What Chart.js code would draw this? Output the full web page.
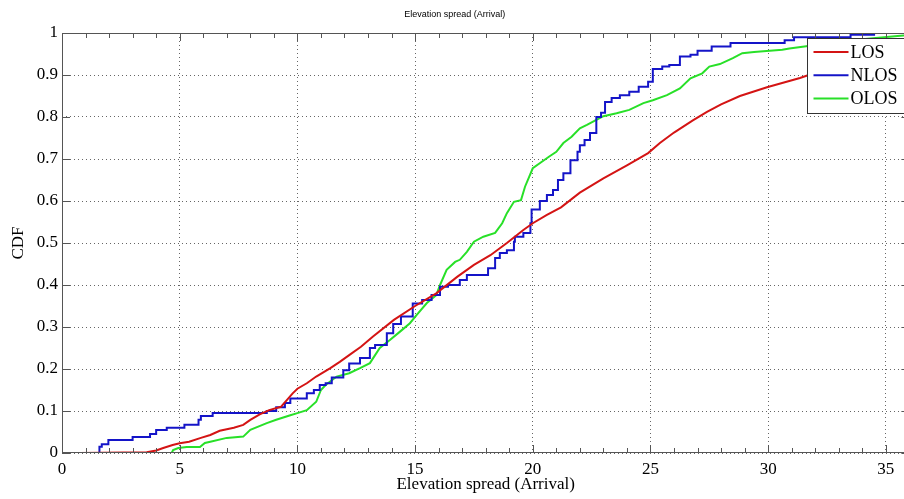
<!DOCTYPE html>
<html>
<head>
<meta charset="utf-8">
<script src="https://cdn.jsdelivr.net/npm/chart.js@4.4.0/dist/chart.umd.min.js"></script>
<style>
  html, body { margin: 0; padding: 0; background: #fff; overflow: hidden; }
  canvas { display: block; }
</style>
</head>
<body>
<canvas id="cdf" width="910" height="499"></canvas>
<script>
// tick labels
const xTicks = [0, 5, 10, 15, 20, 25, 30, 35];
const yTicks = [0, 0.1, 0.2, 0.3, 0.4, 0.5, 0.6, 0.7, 0.8, 0.9, 1];

// LOS
const losX = [0.75, 3.6, 4.0, 4.3, 4.7, 5.0, 5.4, 5.9, 6.3, 6.7, 7.3, 7.7, 8.0, 8.4, 8.8, 9.3, 9.55, 9.8, 10.0, 10.4, 10.8, 11.4, 11.8, 12.2, 12.7, 13.2, 14.1, 15.0, 15.9, 16.8, 17.5, 18.2, 18.9, 19.6, 20.0, 20.6, 21.2, 22.0, 23.0, 24.0, 24.9, 25.4, 26.0, 26.8, 27.4, 28.0, 28.8, 29.95, 31.35, 32.5, 34.0, 36.0];
const losY = [0, 0.002, 0.006, 0.012, 0.019, 0.023, 0.027, 0.036, 0.043, 0.053, 0.06, 0.067, 0.079, 0.092, 0.102, 0.11, 0.126, 0.142, 0.153, 0.166, 0.182, 0.202, 0.217, 0.233, 0.253, 0.277, 0.317, 0.35, 0.38, 0.42, 0.448, 0.471, 0.5, 0.531, 0.547, 0.567, 0.585, 0.62, 0.654, 0.685, 0.714, 0.738, 0.763, 0.792, 0.812, 0.83, 0.85, 0.871, 0.893, 0.915, 0.94, 0.965];

// NLOS (stairs)
const nlosX = [1.59, 1.69, 1.97, 3.0, 3.74, 4.0, 4.45, 5.2, 5.8, 5.9, 6.4, 8.7, 9.1, 9.47, 9.7, 10.4, 10.7, 10.95, 11.2, 11.46, 11.95, 12.2, 12.66, 13.08, 13.3, 13.8, 14.07, 14.4, 14.9, 15.3, 15.7, 16.06, 16.4, 16.9, 17.2, 18.1, 18.4, 18.6, 18.9, 19.2, 19.24, 19.6, 19.9, 19.95, 20.3, 20.6, 20.86, 21.07, 21.3, 21.6, 21.9, 22.0, 22.2, 22.43, 22.7, 22.9, 23.07, 23.35, 23.7, 24.1, 24.5, 24.9, 25.1, 25.5, 25.8, 26.25, 26.7, 27.0, 27.6, 28.4, 30.7, 31.1, 33.5, 34.5, 35.0, 36.0];
const nlosY = [0, 0.015, 0.021, 0.031, 0.038, 0.045, 0.055, 0.06, 0.067, 0.079, 0.088, 0.095, 0.1, 0.109, 0.119, 0.13, 0.142, 0.15, 0.162, 0.166, 0.18, 0.197, 0.213, 0.226, 0.25, 0.257, 0.285, 0.307, 0.325, 0.356, 0.364, 0.376, 0.396, 0.4, 0.412, 0.424, 0.44, 0.464, 0.476, 0.483, 0.503, 0.515, 0.524, 0.547, 0.58, 0.6, 0.614, 0.626, 0.65, 0.666, 0.697, 0.717, 0.733, 0.745, 0.762, 0.8, 0.81, 0.836, 0.845, 0.852, 0.86, 0.872, 0.884, 0.914, 0.92, 0.924, 0.944, 0.948, 0.958, 0.968, 0.976, 0.983, 0.99, 0.996, 1.0, 1.0];

// OLOS
const olosX = [4.66, 4.72, 4.94, 5.3, 5.86, 6.07, 6.3, 7.0, 7.7, 8.0, 8.7, 9.1, 9.7, 10.0, 10.4, 10.8, 11.0, 11.2, 11.67, 12.2, 12.66, 13.08, 13.5, 13.93, 14.36, 14.78, 15.07, 15.5, 15.9, 16.06, 16.34, 16.7, 16.9, 17.2, 17.5, 17.9, 18.4, 18.7, 18.9, 19.2, 19.5, 19.67, 20.0, 20.4, 20.7, 21.0, 21.3, 21.65, 22.0, 22.3, 22.7, 23.0, 23.56, 24.1, 24.7, 25.1, 25.7, 26.25, 26.7, 27.2, 27.5, 27.95, 28.5, 28.9, 29.4, 30.6, 30.9, 32.5, 34.0, 35.5, 36.0];
const olosY = [0, 0.007, 0.012, 0.014, 0.014, 0.024, 0.027, 0.036, 0.039, 0.055, 0.071, 0.079, 0.09, 0.095, 0.102, 0.122, 0.15, 0.162, 0.182, 0.19, 0.202, 0.214, 0.25, 0.269, 0.289, 0.309, 0.329, 0.357, 0.376, 0.4, 0.436, 0.455, 0.46, 0.479, 0.503, 0.515, 0.524, 0.547, 0.571, 0.598, 0.602, 0.634, 0.678, 0.694, 0.706, 0.717, 0.738, 0.753, 0.773, 0.781, 0.793, 0.802, 0.809, 0.817, 0.833, 0.84, 0.852, 0.868, 0.892, 0.904, 0.92, 0.926, 0.94, 0.952, 0.955, 0.96, 0.963, 0.975, 0.985, 0.993, 0.995];

const toPts = (xs, ys) => xs.map((x, i) => ({ x: x, y: ys[i] }));
const serif = "'Liberation Serif', serif";

// box, inward ticks and the legend (drawn on top of the lines)
const matlabFrame = {
  id: 'matlabFrame',
  afterDatasetsDraw(chart) {
    const ctx = chart.ctx;
    const ca = chart.chartArea;
    const xs = chart.scales.x;
    const ys = chart.scales.y;
    ctx.save();
    ctx.strokeStyle = '#555';
    ctx.lineWidth = 1;
    ctx.beginPath();
    ctx.moveTo(ca.left + 0.5, ca.top + 0.5);
    ctx.lineTo(ca.right, ca.top + 0.5);
    ctx.moveTo(ca.left + 0.5, ca.top);
    ctx.lineTo(ca.left + 0.5, ca.bottom);
    ctx.moveTo(ca.left, ca.bottom - 0.5);
    ctx.lineTo(ca.right, ca.bottom - 0.5);
    ctx.moveTo(ca.right - 0.5, ca.top);
    ctx.lineTo(ca.right - 0.5, ca.bottom);
    // x ticks, minor every 1
    for (let v = Math.ceil(xs.min); v <= xs.max; v++) {
      const px = Math.round(xs.getPixelForValue(v)) + 0.5;
      const len = v % 5 === 0 ? 8 : 5;
      ctx.moveTo(px, ca.bottom);
      ctx.lineTo(px, ca.bottom - len);
      ctx.moveTo(px, ca.top);
      ctx.lineTo(px, ca.top + len);
    }
    yTicks.forEach(v => {
      const py = Math.round(ys.getPixelForValue(v)) + 0.5;
      ctx.moveTo(ca.left, py);
      ctx.lineTo(ca.left + 8, py);
      ctx.moveTo(ca.right, py);
      ctx.lineTo(ca.right - 8, py);
    });
    ctx.stroke();

    // legend
    const bx = 807.5, by = 38.5, bw = 110, bh = 75;
    ctx.fillStyle = '#fff';
    ctx.fillRect(bx, by, bw, bh);
    ctx.strokeStyle = '#333';
    ctx.strokeRect(bx, by, bw, bh);
    ctx.font = '18px ' + serif;
    ctx.textBaseline = 'middle';
    ctx.textAlign = 'left';
    chart.data.datasets.forEach((ds, i) => {
      const ly = by + 13.5 + i * 23.3;
      ctx.strokeStyle = ds.borderColor;
      ctx.lineWidth = 2;
      ctx.beginPath();
      ctx.moveTo(bx + 6, ly);
      ctx.lineTo(bx + 41, ly);
      ctx.stroke();
      ctx.fillStyle = '#000';
      ctx.fillText(ds.label, bx + 43, ly + 1);
    });
    ctx.restore();
  }
};

new Chart(document.getElementById('cdf').getContext('2d'), {
  type: 'line',
  data: {
    datasets: [
      { label: 'LOS', data: toPts(losX, losY), borderColor: '#d41414', borderWidth: 2, pointRadius: 0, tension: 0 },
      { label: 'NLOS', data: toPts(nlosX, nlosY), borderColor: '#1414c8', borderWidth: 2, pointRadius: 0, stepped: 'after' },
      { label: 'OLOS', data: toPts(olosX, olosY), borderColor: '#28e028', borderWidth: 2, pointRadius: 0, tension: 0 },
    ],
  },
  options: {
    responsive: false,
    animation: false,
    layout: { padding: { left: 0, right: 0.6, top: 0, bottom: 0 } },
    scales: {
      x: {
        type: 'linear',
        min: 0,
        max: 36,
        afterBuildTicks: (s) => { s.ticks = xTicks.map(v => ({ value: v })); },
        afterFit: (s) => { s.height = 46; },
        grid: { color: '#666', lineWidth: 1, drawTicks: false },
        border: { display: false, dash: [1, 3] },
        ticks: { color: '#000', font: { family: serif, size: 17 }, padding: 6, maxRotation: 0, autoSkip: false },
        title: { display: true, text: 'Elevation spread (Arrival)', color: '#000', font: { family: serif, size: 17 }, padding: { top: 0, bottom: 4 } },
      },
      y: {
        min: 0,
        max: 1,
        afterBuildTicks: (s) => { s.ticks = yTicks.map(v => ({ value: v })); },
        afterFit: (s) => { s.width = 62; },
        grid: { color: '#666', lineWidth: 1, drawTicks: false },
        border: { display: false, dash: [1, 3] },
        ticks: { color: '#000', font: { family: serif, size: 17 }, padding: 4, callback: (v) => String(v) },
        title: { display: true, text: 'CDF', color: '#000', font: { family: serif, size: 17 }, padding: { top: 8, bottom: 0 } },
      },
    },
    plugins: {
      legend: { display: false },
      tooltip: { enabled: false },
      title: {
        display: true,
        text: 'Elevation spread (Arrival)',
        color: '#000',
        font: { family: "'Liberation Sans', sans-serif", size: 9, weight: 'normal' },
        padding: { top: 9, bottom: 13.2 },
      },
    },
  },
  plugins: [matlabFrame],
});
</script>
</body>
</html>
